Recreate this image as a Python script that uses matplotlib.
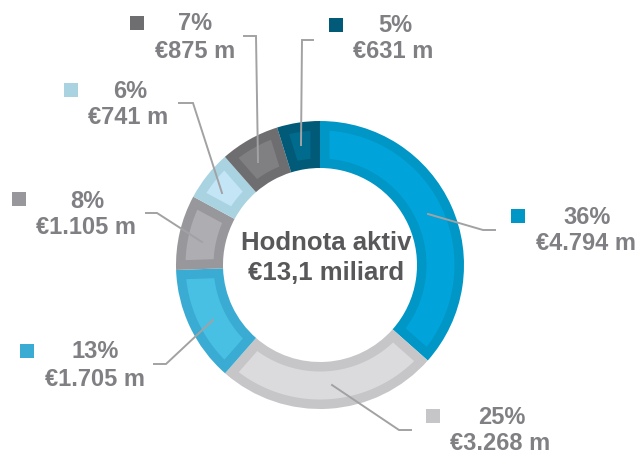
import matplotlib
matplotlib.use("Agg")
import numpy as np
import matplotlib.pyplot as plt
from matplotlib.patches import Polygon

# ---- data ----
values = [4794, 3268, 1705, 1105, 741, 875, 631]          # € m, clockwise from top
pct_labels = ['36%', '25%', '13%', '8%', '6%', '7%', '5%']
value_labels = ['€4.794 m', '€3.268 m', '€1.705 m', '€1.105 m', '€741 m', '€875 m', '€631 m']
center_title = 'Hodnota aktiv'
center_total = '€13,1 miliard'

# ---- styles ----
outer_colors = ['#0096C6', '#C6C6C8', '#3AABD2', '#98989C', '#A9D3E1', '#6E6E71', '#005A78']
inner_colors = ['#00A4DA', '#DBDBDD', '#48C0E4', '#AEAEB2', '#C3E5F5', '#808083', '#006B8C']
text_color = '#808084'
line_color = '#A2A2A4'
font = 'Liberation Sans'

W, H = 638, 453
fig = plt.figure(figsize=(W / 100, H / 100), dpi=100)
ax = fig.add_axes([0, 0, 1, 1])

def Y(y):
    return H - y

cx, cy = 320, 265
R, ring_w = 144, 47
border = 9.5

wedges, _ = ax.pie(values, startangle=90, counterclock=False,
                   center=(cx, Y(cy)), radius=R, colors=outer_colors,
                   wedgeprops=dict(width=ring_w, linewidth=0))
ax.set_aspect('auto')
ax.set_xlim(0, W)
ax.set_ylim(0, H)
ax.axis('off')

# lighter inner band of each segment, inset by a constant border
r_in, r_out = R - ring_w + border, R - border
for w, fc in zip(wedges, inner_colors):
    t1, t2 = np.radians(w.theta1), np.radians(w.theta2)
    pts = []
    for r, rev in ((r_out, False), (r_in, True)):
        d = np.arcsin(border / r)
        th = np.linspace(t1 + d, t2 - d, 60)
        if rev:
            th = th[::-1]
        pts += [(cx + r * np.cos(t), Y(cy) + r * np.sin(t)) for t in th]
    ax.add_patch(Polygon(pts, closed=True, facecolor=fc, lw=0))

# label layout (pixel coords, top-left origin)
pct_pos = [(587, 217), (502, 417), (95, 352), (87, 202), (130, 92), (195, 24), (395, 25)]
val_pos = [(586, 243), (500, 443), (95, 380), (86, 227), (128, 118), (195, 51), (393, 51)]
sq_pos = [(518, 216), (433, 416), (27, 351), (19, 199), (71, 90), (137, 23), (336, 25)]
leaders = [
    [(428, 214), (483, 230), (495, 230)],
    [(332, 385), (399, 430), (411, 430)],
    [(213, 320), (166, 364), (154, 364)],
    [(202, 242), (157, 213), (146, 213)],
    [(222, 193), (193, 103), (179, 103)],
    [(258, 162), (256, 36), (244, 36)],
    [(301, 145), (302, 40), (313, 40)],
]

for i in range(len(values)):
    px, py = pct_pos[i]
    ax.text(px, Y(py), pct_labels[i], ha='center', va='center', fontsize=17,
            fontweight='bold', color=text_color, family=font)
    vx, vy = val_pos[i]
    ax.text(vx, Y(vy), value_labels[i], ha='center', va='center', fontsize=17,
            fontweight='bold', color=text_color, family=font)
    sx, sy = sq_pos[i]
    ax.add_patch(plt.Rectangle((sx - 7, Y(sy) - 7), 14, 14, color=outer_colors[i], lw=0))
    pts = leaders[i]
    ax.plot([p[0] for p in pts], [Y(p[1]) for p in pts], color=line_color, lw=1.4,
            solid_joinstyle='miter')

ax.text(326, Y(243), center_title, ha='center', va='center', fontsize=18.5,
        fontweight='bold', color='#58585A', family=font)
ax.text(326, Y(273), center_total, ha='center', va='center', fontsize=18.5,
        fontweight='bold', color='#58585A', family=font)

fig.savefig('out.png', dpi=100)
